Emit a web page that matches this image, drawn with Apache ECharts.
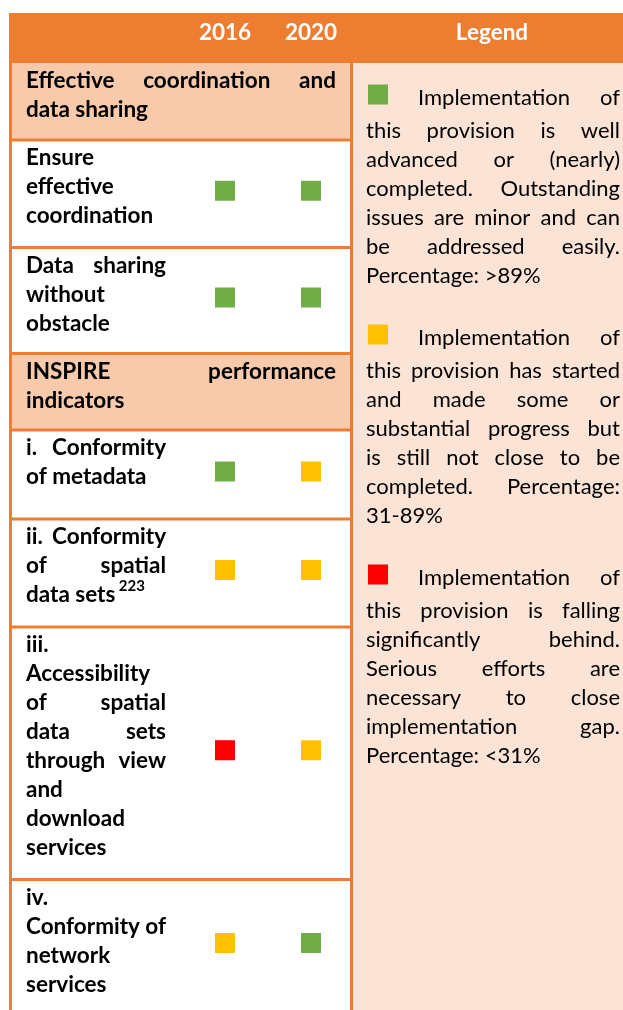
<!DOCTYPE html>
<html><head><meta charset="utf-8">
<script src="https://cdn.jsdelivr.net/npm/echarts@6/dist/echarts.min.js"></script>
<style>html,body{margin:0;padding:0;background:#fff}#c{width:623px;height:1010px}</style>
</head><body><div id="c"></div>
<script>
// ---------------- data ----------------
const years = ['2016', '2020'];
const rowTexts = [
  ['Effective coordination and', 'data sharing'],
  ['Ensure', 'effective', 'coordination'],
  ['Data sharing', 'without', 'obstacle'],
  ['INSPIRE performance', 'indicators'],
  ['i.  Conformity', 'of metadata'],
  ['ii.  Conformity', 'of spatial', 'data sets'],
  ['iii.', 'Accessibility', 'of spatial', 'data sets', 'through view', 'and', 'download', 'services'],
  ['iv.', 'Conformity of', 'network', 'services']
];
const rowIsSection = [true, false, false, true, false, false, false, false];
const rowFootnotes = [null, null, null, null, null, '223', null, null];
const status2016 = [null, 'green', 'green', null, 'green', 'amber', 'red', 'amber'];
const status2020 = [null, 'green', 'green', null, 'amber', 'amber', 'amber', 'green'];
const legendTitle = 'Legend';
const legendKeys = ['green', 'amber', 'red'];
const legendTexts = [
  ['Implementation of', 'this provision is well', 'advanced or (nearly)', 'completed. Outstanding', 'issues are minor and can', 'be addressed easily.', 'Percentage: >89%'],
  ['Implementation of', 'this provision has started', 'and made some or', 'substantial progress but', 'is still not close to be', 'completed. Percentage:', '31-89%'],
  ['Implementation of', 'this provision is falling', 'significantly behind.', 'Serious efforts are', 'necessary to close', 'implementation gap.', 'Percentage: <31%']
];

// ---------------- style / layout ----------------
const statusColors = { green: '#70AD47', amber: '#FFC000', red: '#FF0000' };
const ORANGE = '#ED7D31', SECTION = '#F7CAAC', LEGBG = '#FBE4D5';
const FONT = 'Lato, "Open Sans", sans-serif';
const HEADER_TOP = 13, HEADER_BOTTOM = 63, H = 1010;
const rowHeights = [77, 107.5, 106, 76.5, 89, 108, 252.5, 133];
const rowTops = [];
{ let y = HEADER_BOTTOM; rowHeights.forEach(h => { rowTops.push(y); y += h; }); }

const mctx = document.createElement('canvas').getContext('2d');
function tw(s, size, weight) { mctx.font = weight + ' ' + size + 'px ' + FONT; return mctx.measureText(s).width; }
const regSize = Math.round(100 * 174 / tw('Percentage: >89%', 100, 'normal') * 2) / 2;
const boldSize = Math.round(100 * 126 / tw('coordination', 100, 'bold') * 2) / 2;

const els = [];
function rect(x, y, w, h, fill, z) { els.push({ type: 'rect', z: z, shape: { x, y, width: w, height: h }, style: { fill } }); }
function line(x1, y1, x2, y2) { els.push({ type: 'line', z: 1, shape: { x1, y1, x2, y2 }, style: { stroke: ORANGE, lineWidth: 3 } }); }
function text(t, x, y, size, weight, color, align) {
  els.push({ type: 'text', z: 2, x, y, style: { text: t, fontFamily: FONT, fontSize: size, fontWeight: weight, fill: color || '#000', textAlign: align || 'left', textVerticalAlign: 'middle' } });
}
function addLine(items, x0, x1, y, justify, size, weight) {
  const ws = items.map(it => typeof it === 'string' ? tw(it, size, weight) : it.w);
  if (!justify || items.length < 2) {
    let x = x0;
    items.forEach((it, i) => {
      if (typeof it === 'string') { text(it, x, y, size, weight); }
      else { rect(x + 2, y - 13, 20, 20, it.color, 2); }
      x += ws[i] + tw(' ', size, weight);
    });
    return;
  }
  const sum = ws.reduce((a, b) => a + b, 0);
  const gap = (x1 - x0 - sum) / (items.length - 1);
  let x = x0;
  items.forEach((it, i) => {
    if (typeof it === 'string') text(it, x, y, size, weight);
    else rect(x + 2, y - 13, 20, 20, it.color, 2);
    x += ws[i] + gap;
  });
}

// backgrounds
rect(9, HEADER_TOP, 614, HEADER_BOTTOM - HEADER_TOP, ORANGE, -1);
rect(353, HEADER_BOTTOM, 270, H - HEADER_BOTTOM, LEGBG, -1);
rowTexts.forEach((r, i) => { if (rowIsSection[i]) rect(12, rowTops[i], 338, rowHeights[i], SECTION, -1); });
rowTops.forEach((y, i) => { if (i > 0) line(9, y, 353, y); });
line(10.5, HEADER_BOTTOM, 10.5, H);
line(351.5, HEADER_BOTTOM, 351.5, H);

// header "Legend"
text(legendTitle, 492, 33, boldSize, 'bold', '#fff', 'center');

// row labels
const LH = 29;
rowTexts.forEach((lines, i) => {
  const x1 = rowIsSection[i] ? 336 : 166;
  lines.forEach((ln, k) => {
    const y = rowTops[i] + 18 + k * LH;
    const last = k === lines.length - 1;
    addLine(ln.split(/\s+/), 26, x1, y, !last, boldSize, 'bold');
    if (last && rowFootnotes[i]) {
      const fx = 24 + tw(ln + ' ', boldSize, 'bold');
      text(rowFootnotes[i], fx, y - 9, Math.round(boldSize * 0.65), 'bold');
    }
  });
});

// legend paragraphs
{
  let y = 97.5;
  legendTexts.forEach((lines, p) => {
    lines.forEach((ln, k) => {
      const items = ln.split(/\s+/);
      if (k === 0) items.unshift({ w: 22, color: statusColors[legendKeys[p]] });
      const last = k === lines.length - 1;
      addLine(items, 366, 620, y, !last, regSize, 'normal');
      if (!last) y += (k === 0 ? 33 : LH);
    });
    y += 62;
  });
}

// scatter data: squares from statuses
const scatterData = [];
[status2016, status2020].forEach((arr, j) => {
  arr.forEach((s, i) => {
    if (s) scatterData.push([years[j], rowTops[i] + rowHeights[i] / 2 - 3, s]);
  });
});

const chart = echarts.init(document.getElementById('c'), null, { renderer: 'canvas' });
chart.setOption({
  animation: false,
  grid: { left: 182, width: 172, top: HEADER_BOTTOM, height: H - HEADER_BOTTOM },
  xAxis: {
    type: 'category', data: years, position: 'top', z: 5,
    axisLine: { show: false }, axisTick: { show: false }, splitLine: { show: false },
    axisLabel: { color: '#fff', fontWeight: 'bold', fontSize: boldSize, fontFamily: FONT, margin: 18, lineHeight: 24 }
  },
  yAxis: { type: 'value', min: HEADER_BOTTOM, max: H, inverse: true, show: false },
  series: [{
    type: 'scatter', symbol: 'rect', symbolSize: 20, z: 10,
    data: scatterData,
    itemStyle: { color: p => statusColors[p.data[2]], opacity: 1 },
    emphasis: { disabled: true }
  }],
  graphic: { elements: els }
});
</script>
</body></html>
